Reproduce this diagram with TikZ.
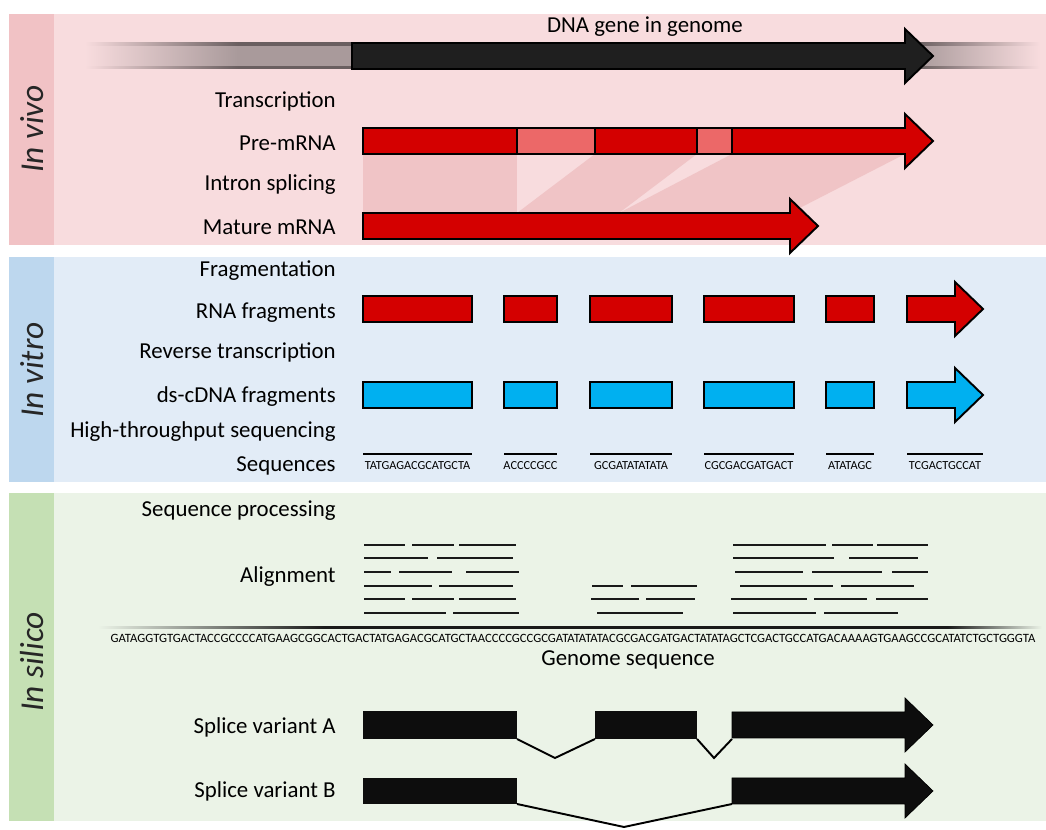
\documentclass[tikz,border=0pt]{standalone}
\usepackage{fontspec}
\setmainfont{Carlito}
\definecolor{vivobg}{HTML}{F8DCDE}
\definecolor{vivoband}{HTML}{F1C2C5}
\definecolor{vitrobg}{HTML}{E2ECF7}
\definecolor{vitroband}{HTML}{BDD7EE}
\definecolor{silicobg}{HTML}{EBF3E7}
\definecolor{silicoband}{HTML}{C5E0B4}
\definecolor{rnared}{HTML}{D40000}
\definecolor{intronred}{HTML}{EC6868}
\definecolor{cdnablue}{HTML}{00B0F0}
\definecolor{dnagrey}{HTML}{A99A9B}
\definecolor{dnaedge}{HTML}{6A5F60}
\definecolor{splicepink}{HTML}{F0C4C6}
\definecolor{genomeblack}{HTML}{1A1A1A}
% faded ends for the genome strands
\pgfdeclarehorizontalshading{dnafade}{100bp}{color(0bp)=(vivobg); color(25bp)=(vivobg); color(33bp)=(dnagrey); color(68.5bp)=(dnagrey); color(75bp)=(vivobg); color(100bp)=(vivobg)}
\pgfdeclarehorizontalshading{dnaedgefade}{100bp}{color(0bp)=(vivobg); color(25bp)=(vivobg); color(33bp)=(dnaedge); color(68.5bp)=(dnaedge); color(75bp)=(vivobg); color(100bp)=(vivobg)}
\pgfdeclarehorizontalshading{genomefade}{100bp}{color(0bp)=(silicobg); color(25bp)=(silicobg); color(37bp)=(genomeblack); color(70bp)=(genomeblack); color(75bp)=(silicobg); color(100bp)=(silicobg)}
% block arrow: [style]{x start}{head base}{tip}{y centre}
\newcommand{\blockarrow}[5][]{\draw[#1] (#2,#5-13) -- (#3,#5-13) -- (#3,#5-27) -- (#4,#5) -- (#3,#5+27) -- (#3,#5+13) -- (#2,#5+13) -- cycle;}

\begin{document}
\begin{tikzpicture}[x=0.02cm,y=-0.02cm,line join=miter,
	lbl/.style={anchor=east,font=\fontsize{13}{15}\selectfont,text height=11.7pt,text depth=3.4pt,inner sep=0pt},
	sidelbl/.style={rotate=90,font=\fontsize{19}{21}\selectfont\itshape,text=black!85,inner sep=0pt},
	seqtxt/.style={font=\fontsize{7}{8}\selectfont,inner sep=0pt},
	rnabox/.style={draw=black,line width=1.1pt,fill=rnared},
	intronbox/.style={draw=black,line width=1.1pt,fill=intronred},
	cdnabox/.style={draw=black,line width=1.1pt,fill=cdnablue},
	genebox/.style={fill=black!95},
	readline/.style={line width=1.4pt,black!90},
	junction/.style={line width=1.1pt}]
	\useasboundingbox (0,0) rectangle (1046,830);
	% panels
	\fill[vivobg] (9,14) rectangle (1046,245);
	\fill[vivoband] (9,14) rectangle (54,245);
	\fill[vitrobg] (9,257) rectangle (1046,482);
	\fill[vitroband] (9,257) rectangle (54,482);
	\fill[silicobg] (9,493) rectangle (1046,821);
	\fill[silicoband] (9,493) rectangle (54,821);
	\node[sidelbl] (vivo) at (32,129) {In vivo};
	\node[sidelbl] (vitro) at (32,370) {In vitro};
	\node[sidelbl] (silico) at (32,662) {In silico};
	
	%% in vivo
	\node[font=\fontsize{13}{15}\selectfont] (dnagene) at (645,27) {DNA gene in genome};
	\shade[shading=dnafade] (85,43) rectangle (1040,69);
	\shade[shading=dnaedgefade] (85,43) rectangle (1040,45.5);
	\shade[shading=dnaedgefade] (85,66.5) rectangle (1040,69);
	\blockarrow[draw=black,line width=1.1pt,fill=black!88]{352}{905}{933}{56}
	
	\node[lbl] (transcr) at (336,100) {Transcription};
	\node[lbl] (premrna) at (336,143) {Pre-mRNA};
	\node[lbl] (splicing) at (336,183) {Intron splicing};
	\node[lbl] (mature) at (336,227) {Mature mRNA};
	% exons joined
	\fill[splicepink] (363,154) -- (517,154) -- (517,213) -- (363,213) -- cycle;
	\fill[splicepink] (595,154) -- (697,154) -- (619,213) -- (517,213) -- cycle;
	\fill[splicepink] (732,154) -- (905,154) -- (790,213) -- (619,213) -- cycle;
	\blockarrow[rnabox]{363}{905}{933}{141}
	\draw[intronbox] (517,128) rectangle (595,154);
	\draw[intronbox] (697,128) rectangle (732,154);
	\blockarrow[rnabox]{363}{790}{818}{226}
	
	%% in vitro
	\node[lbl] (fragm) at (336,269) {Fragmentation};
	\node[lbl] (rnafrag) at (336,311) {RNA fragments};
	\node[lbl] (revtr) at (336,351) {Reverse transcription};
	\node[lbl] (cdnafrag) at (336,395) {ds-cDNA fragments};
	\node[lbl] (htseq) at (336,430) {High-throughput sequencing};
	\node[lbl] (seqs) at (336,464) {Sequences};
	\foreach \xa/\xb in {363/472,504/557,590/672,704/794,826/874}{
		\draw[rnabox] (\xa,296) rectangle (\xb,322);
		\draw[cdnabox] (\xa,382) rectangle (\xb,408);
	}
	\blockarrow[rnabox]{907}{955}{983}{309}
	\blockarrow[cdnabox]{907}{955}{983}{395}
	\foreach \xa/\xb/\s [count=\i] in {363/472/TATGAGACGCATGCTA,504/557/ACCCCGCC,590/672/GCGATATATATA,704/794/CGCGACGATGACT,826/874/ATATAGC,907/983/TCGACTGCCAT}{
		\draw[line width=1.4pt] (\xa,454) -- (\xb,454);
		\node[seqtxt] (read\i) at ({(\xa+\xb)/2},466) {\s};
	}
	
	%% in silico
	\node[lbl] (seqproc) at (336,509) {Sequence processing};
	\node[lbl] (align) at (336,575) {Alignment};
	\foreach \r/\segs in {545/{364/405,412/454,459/516,733/826,832/873,877/928},
		558/{364/428,437/513,733/834,849/918},
		572/{364/391,399/452,466/519,735/803,812/882,892/928},
		586/{364/432,439/513,592/623,631/697,740/833,841/914},
		599/{364/405,412/454,459/516,591/639,646/695,731/807,814/867,876/928},
		613/{364/446,453/519,597/683,733/816,824/898}}{
		\foreach \a/\b in \segs
		\draw[readline] (\a,\r) -- (\b,\r);
	}
	% genome line
	\shade[shading=genomefade] (98,626.2) rectangle (1042,628.2);
	\node[seqtxt,font=\fontsize{7.2}{8}\selectfont] (genome) at (573,638) {GATAGGTGTGACTACCGCCCCATGAAGCGGCACTGACTATGAGACGCATGCTAACCCCGCCGCGATATATATACGCGACGATGACTATATAGCTCGACTGCCATGACAAAAGTGAAGCCGCATATCTGCTGGGTA};
	\node[font=\fontsize{13}{15}\selectfont,inner sep=0pt] (genlbl) at (628,660) {Genome sequence};
	
	\node[lbl] (varA) at (336,726) {Splice variant A};
	\node[lbl] (varB) at (336,790) {Splice variant B};
	\fill[genebox] (363,711) rectangle (517,739);
	\fill[genebox] (595,711) rectangle (697,739);
	\blockarrow[genebox]{732}{905}{933}{725}
	\draw[junction] (517,739) -- (555,758) -- (595,739);
	\draw[junction] (697,739) -- (714,758) -- (732,739);
	\fill[genebox] (363,778) rectangle (517,804);
	\blockarrow[genebox]{732}{905}{933}{791}
	\draw[junction] (517,804) -- (624,827) -- (732,804);
\end{tikzpicture}
\end{document}
